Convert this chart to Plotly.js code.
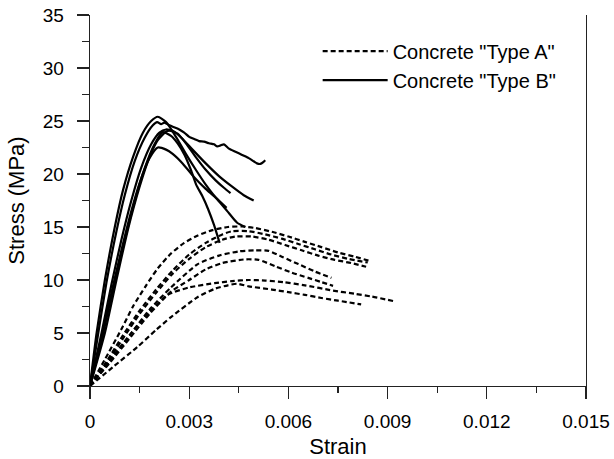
<!DOCTYPE html>
<html>
<head>
<meta charset="utf-8">
<script src="https://cdn.plot.ly/plotly-3.0.1.min.js"></script>
<style>
  html, body { margin: 0; padding: 0; background: #fff; }
  #chart { width: 614px; height: 459px; }
</style>
</head>
<body>
<div id="chart"></div>
<script>
// ---------- Concrete "Type A" (dashed) ----------
const strainA1 = [0, 0.00044, 0.00094, 0.0013, 0.0017, 0.00205, 0.00245, 0.00285, 0.00326, 0.0037, 0.00417, 0.0046, 0.005, 0.0055, 0.006, 0.0065, 0.007, 0.0075, 0.008, 0.00845];
const stressA1 = [0, 2.45, 5.3, 7.5, 9.5, 11.1, 12.5, 13.5, 14.2, 14.7, 15.0, 15.05, 14.9, 14.55, 14.1, 13.6, 13.1, 12.6, 12.2, 11.8];

const strainA2 = [0, 0.0005, 0.001, 0.0015, 0.002, 0.0025, 0.003, 0.0035, 0.004, 0.0043, 0.0048, 0.0053, 0.0058, 0.0063, 0.0068, 0.0073, 0.0078, 0.0084];
const stressA2 = [0, 2.3, 4.8, 7.1, 9.1, 10.9, 12.4, 13.5, 14.3, 14.6, 14.6, 14.3, 13.9, 13.4, 12.9, 12.4, 12.0, 11.65];

const strainA3 = [0, 0.0005, 0.001, 0.0015, 0.002, 0.0025, 0.003, 0.0035, 0.004, 0.0044, 0.0049, 0.0054, 0.0059, 0.0064, 0.0069, 0.0074, 0.0079, 0.00835];
const stressA3 = [0, 2.1, 4.5, 6.8, 8.8, 10.6, 12.0, 13.1, 13.8, 14.1, 14.1, 13.8, 13.3, 12.8, 12.3, 11.9, 11.6, 11.25];

const strainA4 = [0, 0.0006, 0.0012, 0.0018, 0.00245, 0.00326, 0.0039, 0.0045, 0.005, 0.0054, 0.0058, 0.0063, 0.0068, 0.0073];
const stressA4 = [0, 2.4, 4.8, 7.2, 9.3, 11.5, 12.3, 12.7, 12.8, 12.75, 12.2, 11.5, 10.8, 10.2];

const strainA5 = [0, 0.0006, 0.0012, 0.0018, 0.00245, 0.003, 0.0035, 0.004, 0.0047, 0.0051, 0.0056, 0.0061, 0.0066, 0.007, 0.00735];
const stressA5 = [0, 2.2, 4.5, 6.8, 8.9, 10.0, 11.0, 11.6, 11.95, 11.9, 11.3, 10.7, 10.2, 9.8, 9.45];

const strainA6 = [0, 0.0006, 0.0012, 0.0018, 0.00235, 0.003, 0.00377, 0.0043, 0.0048, 0.0053, 0.00585, 0.0065, 0.00735, 0.008, 0.0085, 0.0092];
const stressA6 = [0, 2.4, 4.8, 7.0, 8.6, 9.3, 9.7, 9.9, 10.0, 9.95, 9.8, 9.5, 9.0, 8.7, 8.45, 8.0];

const strainA7 = [0, 0.0007, 0.00144, 0.002, 0.00245, 0.00326, 0.0038, 0.00417, 0.00445, 0.0048, 0.0055, 0.006, 0.0065, 0.007, 0.0075, 0.0082];
const stressA7 = [0, 1.8, 3.7, 5.3, 6.5, 8.4, 9.2, 9.5, 9.65, 9.4, 9.1, 8.85, 8.6, 8.3, 8.05, 7.7];

// ---------- Concrete "Type B" (solid) ----------
const strainB1 = [0, 0.0002, 0.00045, 0.00075, 0.001, 0.0013, 0.0016, 0.00185, 0.00205, 0.0023, 0.0026, 0.0029, 0.0032, 0.0035, 0.0038, 0.00413];
const stressB1 = [0, 5, 10, 15, 18.5, 21.6, 23.9, 25.0, 25.4, 24.9, 23.5, 21.9, 20.4, 19.0, 17.8, 16.8];

const strainB2 = [0, 0.00025, 0.0005, 0.0008, 0.00105, 0.00135, 0.00165, 0.0019, 0.00203, 0.00215, 0.00225, 0.0024, 0.00255, 0.0027, 0.00285, 0.003, 0.00315, 0.0033, 0.00345, 0.0036, 0.00375, 0.00385, 0.00395, 0.00405, 0.0042, 0.0044, 0.0046, 0.0048, 0.00495, 0.00505, 0.00515, 0.00525, 0.0053];
const stressB2 = [0, 5, 9.8, 14.6, 18, 21.2, 23.4, 24.6, 24.9, 24.7, 24.85, 24.6, 24.4, 24.2, 23.9, 23.5, 23.3, 23.1, 23.05, 22.9, 22.8, 22.6, 22.7, 22.8, 22.4, 22.1, 21.8, 21.5, 21.2, 21.0, 20.95, 21.15, 21.3];

const strainB3 = [0, 0.00045, 0.0008, 0.00115, 0.0015, 0.0018, 0.00205, 0.0023, 0.0024, 0.00265, 0.0029, 0.0032, 0.0035, 0.0038, 0.00405, 0.00425];
const stressB3 = [0, 5, 10, 14.8, 18.8, 21.6, 23.2, 24.0, 24.1, 23.8, 22.9, 21.6, 20.4, 19.4, 18.7, 18.2];

const strainB4 = [0, 0.0004, 0.00072, 0.00105, 0.00135, 0.00165, 0.00195, 0.0022, 0.00245, 0.00265, 0.00286, 0.00305, 0.00321, 0.0034, 0.00357, 0.00375, 0.00392];
const stressB4 = [0, 5, 9.5, 13.8, 17.4, 20.5, 22.8, 23.95, 23.6, 22.9, 21.8, 20.4, 19.0, 17.9, 16.7, 15.2, 13.5];

const strainB5 = [0, 0.00035, 0.00065, 0.00095, 0.00125, 0.00155, 0.00185, 0.0021, 0.0023, 0.00255, 0.0028, 0.0031, 0.0035, 0.0039, 0.0043, 0.00465, 0.00495];
const stressB5 = [0, 5, 9.6, 13.8, 17.5, 20.6, 22.8, 23.9, 24.2, 24.0, 23.3, 22.3, 21.0, 19.8, 18.8, 18.0, 17.5];

const strainB6 = [0, 0.00035, 0.00065, 0.00095, 0.00125, 0.00155, 0.0018, 0.00205, 0.0023, 0.0025, 0.0028, 0.00315, 0.0035, 0.00385, 0.00415, 0.00445, 0.0047];
const stressB6 = [0, 4.6, 8.8, 12.8, 16.5, 19.6, 21.5, 22.5, 22.3, 21.9, 21.0, 19.7, 18.6, 17.6, 16.5, 15.4, 15.0];

// ---------- axis ticks ----------
const xTickVals = [0, 0.003, 0.006, 0.009, 0.012, 0.015];
const xTickText = ["0", "0.003", "0.006", "0.009", "0.012", "0.015"];
const yTickVals = [0, 5, 10, 15, 20, 25, 30, 35];
const yTickText = ["0", "5", "10", "15", "20", "25", "30", "35"];

const seriesA = [[strainA1, stressA1], [strainA2, stressA2], [strainA3, stressA3], [strainA4, stressA4], [strainA5, stressA5], [strainA6, stressA6], [strainA7, stressA7]];
const seriesB = [[strainB1, stressB1], [strainB2, stressB2], [strainB3, stressB3], [strainB4, stressB4], [strainB5, stressB5], [strainB6, stressB6]];

const traces = [];
seriesA.forEach((s, i) => traces.push({
  x: s[0], y: s[1], type: 'scatter', mode: 'lines',
  name: 'Concrete "Type A"', legendgroup: 'A', showlegend: i === 0,
  line: { color: '#000', width: 2.2, dash: '5px,3px', shape: 'spline', smoothing: 0.6 },
  hoverinfo: 'skip'
}));
seriesB.forEach((s, i) => traces.push({
  x: s[0], y: s[1], type: 'scatter', mode: 'lines',
  name: 'Concrete "Type B"', legendgroup: 'B', showlegend: i === 0,
  line: { color: '#000', width: 2.2, shape: 'spline', smoothing: 0.6 },
  hoverinfo: 'skip'
}));

const font = 'Liberation Sans, Arial, sans-serif';
const layout = {
  width: 614, height: 459,
  margin: { l: 90, r: 28, t: 15, b: 73 },
  paper_bgcolor: '#fff', plot_bgcolor: '#fff',
  font: { family: font, color: '#000' },
  showlegend: true,
  legend: {
    x: 0.459, y: 0.955, xanchor: 'left', yanchor: 'top',
    font: { family: font, size: 20, color: '#000' },
    bgcolor: 'rgba(0,0,0,0)', itemwidth: 65, traceorder: 'normal', tracegroupgap: 0
  },
  xaxis: {
    range: [0, 0.015], tickmode: 'array', tickvals: xTickVals, ticktext: xTickText,
    ticks: 'outside', ticklen: 12, tickwidth: 1.2, tickcolor: '#222',
    showline: true, linecolor: '#222', linewidth: 1.3, mirror: false,
    showgrid: false, zeroline: false, ticklabelstandoff: 6,
    tickfont: { family: font, size: 19, color: '#000' },
    minor: { dtick: 0.0015, tick0: 0, ticks: 'outside', ticklen: 6, tickwidth: 1.2, tickcolor: '#222', showgrid: false },
    title: { text: 'Strain', font: { family: font, size: 22, color: '#000' }, standoff: 9 }
  },
  yaxis: {
    range: [0, 35], tickmode: 'array', tickvals: yTickVals, ticktext: yTickText,
    ticks: 'outside', ticklen: 12, tickwidth: 1.2, tickcolor: '#222',
    showline: true, linecolor: '#222', linewidth: 1.3, mirror: true,
    showgrid: false, zeroline: false, ticklabelstandoff: 9,
    tickfont: { family: font, size: 19, color: '#000' },
    minor: { dtick: 2.5, tick0: 0, ticks: 'outside', ticklen: 7, tickwidth: 1.2, tickcolor: '#222', showgrid: false },
    title: { text: 'Stress (MPa)', font: { family: font, size: 22, color: '#000' }, standoff: 12 }
  }
};

Plotly.newPlot('chart', traces, layout, { staticPlot: true, displayModeBar: false });
</script>
</body>
</html>
